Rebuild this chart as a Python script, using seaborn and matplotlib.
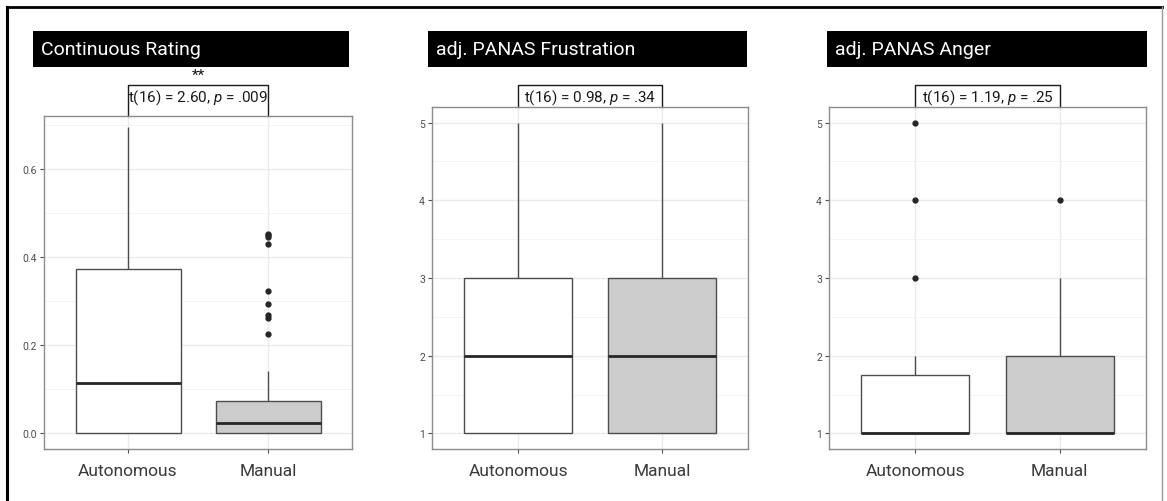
import numpy as np
import pandas as pd
import seaborn as sns
import matplotlib.pyplot as plt
import matplotlib.transforms as mtransforms
from matplotlib.patches import Rectangle
from matplotlib.lines import Line2D
from matplotlib.ticker import MultipleLocator

conditions = ['Autonomous', 'Manual']

# Continuous Rating
rating_auto = [0, 0, 0, 0, 0.02, 0.06, 0.114, 0.16, 0.25, 0.372, 0.45, 0.58, 0.695]
rating_manual = [0, 0, 0, 0, 0, 0, 0, 0, 0, 0, 0,
                 0.002, 0.004, 0.006, 0.008, 0.010, 0.012, 0.015, 0.018, 0.020,
                 0.022,
                 0.026, 0.030, 0.035, 0.040, 0.045, 0.050, 0.055, 0.060, 0.066,
                 0.072, 0.140,
                 0.225, 0.262, 0.268, 0.293, 0.323, 0.430, 0.445, 0.450, 0.452]

# adj. PANAS Frustration
frust_auto = [1, 1, 1, 1, 1, 1, 2, 2, 2, 2, 2, 2, 3, 3, 3, 4, 5, 5]
frust_manual = [1, 1, 1, 1, 1, 1, 1, 2, 2, 2, 2, 3, 3, 3, 3, 4, 4, 5]

# adj. PANAS Anger
anger_auto = [1, 1, 1, 1, 1, 1, 1, 1, 1, 1, 1, 1, 1, 2, 2, 3, 4, 5]
anger_manual = [1, 1, 1, 1, 1, 1, 1, 1, 1, 1, 1, 2, 2, 2, 2, 3, 3, 4]

titles = ['Continuous Rating', 'adj. PANAS Frustration', 'adj. PANAS Anger']
stats_text = [r't(16) = 2.60, $p$ = .009', r't(16) = 0.98, $p$ = .34', r't(16) = 1.19, $p$ = .25']
stars = ['**', '', '']

plt.rcParams['font.family'] = ['Roboto', 'DejaVu Sans']
plt.rcParams['mathtext.fontset'] = 'custom'
plt.rcParams['mathtext.rm'] = 'Roboto'
plt.rcParams['mathtext.it'] = 'Roboto:italic'

W, H = 1167, 502
fig = plt.figure(figsize=(W / 100, H / 100), dpi=100)
fig.patch.set_facecolor('white')

# axes boxes in pixels: left, right, top, bottom
boxes = [(44, 352, 117, 450), (432, 748, 108, 450), (829, 1146, 108, 450)]
strips = [(33, 349), (428, 747), (827, 1147)]
data_sets = [(rating_auto, rating_manual), (frust_auto, frust_manual), (anger_auto, anger_manual)]
ylims = [(-0.036, 0.72), (0.8, 5.2), (0.8, 5.2)]
yticks = [[0.0, 0.2, 0.4, 0.6], [1, 2, 3, 4, 5], [1, 2, 3, 4, 5]]
yticklabels = [['0.0', '0.2', '0.4', '0.6'], ['1', '2', '3', '4', '5'], ['1', '2', '3', '4', '5']]
minor_steps = [0.1, 0.5, 0.5]

fills = {'Autonomous': 'white', 'Manual': '#CCCCCC'}

for i in range(3):
    l, r, t, b = boxes[i]
    ax = fig.add_axes([l / W, 1 - b / H, (r - l) / W, (b - t) / H])
    a, m = data_sets[i]
    df = pd.DataFrame({'condition': ['Autonomous'] * len(a) + ['Manual'] * len(m),
                       'value': list(a) + list(m)})
    sns.boxplot(data=df, x='condition', y='value', hue='condition', palette=fills,
                order=conditions, hue_order=conditions, width=0.75, legend=False,
                linecolor='#4D4D4D', linewidth=1.0, fliersize=3.5, showcaps=False,
                flierprops=dict(marker='o', markerfacecolor='#262626', markeredgecolor='#262626'),
                medianprops=dict(color='#262626', linewidth=2.0),
                ax=ax)
    ax.set_xlim(-0.6, 1.6)
    ax.set_ylim(*ylims[i])
    ax.set_yticks(yticks[i])
    ax.set_yticklabels(yticklabels[i])
    ax.yaxis.set_minor_locator(MultipleLocator(minor_steps[i]))
    ax.set_xlabel('')
    ax.set_ylabel('')
    ax.set_axisbelow(True)
    ax.grid(which='major', color='#EBEBEB', linewidth=1.0)
    ax.grid(which='minor', axis='y', color='#F2F2F2', linewidth=0.6)
    for s in ax.spines.values():
        s.set_color('#8C8C8C')
        s.set_linewidth(1.0)
    ax.tick_params(which='minor', length=0)
    ax.tick_params(axis='y', which='major', length=3, width=0.8, color='#4D4D4D',
                   labelsize=7.5, labelcolor='#4D4D4D', pad=2)
    ax.tick_params(axis='x', which='major', length=3, width=0.8, color='#4D4D4D',
                   labelsize=12.5, labelcolor='#3A3A3A', pad=7)

    # title strip
    x0, x1 = strips[i]
    fig.patches.append(Rectangle((x0 / W, 1 - 68 / H), (x1 - x0) / W, 36 / H,
                                 transform=fig.transFigure, facecolor='black',
                                 edgecolor='none'))
    fig.text((x0 + 8) / W, 1 - 50 / H, titles[i], color='white', fontsize=14,
             ha='left', va='center')

    # significance bracket
    tr = mtransforms.blended_transform_factory(ax.transData, fig.transFigure)
    ytop = 1 - 86 / H
    ybot = 1 - t / H
    ax.add_line(Line2D([0, 0, 1, 1], [ybot, ytop, ytop, ybot], transform=tr,
                       color='#1A1A1A', linewidth=1.0, clip_on=False))
    ax.text(0.5, 1 - 98 / H, stats_text[i], transform=tr, ha='center', va='center',
            fontsize=11, color='#1A1A1A')
    if stars[i]:
        ax.text(0.5, 1 - 76 / H, stars[i], transform=tr, ha='center', va='center',
                fontsize=11, color='#1A1A1A')

# outer frame
fig.add_artist(Line2D([7 / W, 7 / W], [0, 1 - 8 / H], transform=fig.transFigure,
                      color='black', linewidth=2.2))
fig.add_artist(Line2D([7 / W, 1162 / W], [1 - 8 / H, 1 - 8 / H], transform=fig.transFigure,
                      color='black', linewidth=2.0))
fig.add_artist(Line2D([1162 / W, 1162 / W], [0, 1 - 8 / H], transform=fig.transFigure,
                      color='#9A9A9A', linewidth=1.0))

fig.savefig('out.png', dpi=100)
